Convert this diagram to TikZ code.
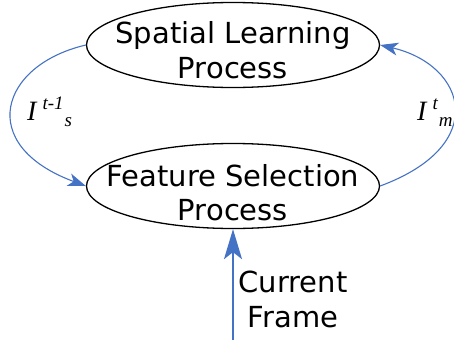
\documentclass[tikz,border=0pt]{standalone}
\usepackage{fontspec}
\setmainfont{DejaVu Sans}
\newfontfamily\serifit{Liberation Serif}
\usetikzlibrary{shapes.geometric,arrows.meta}
\definecolor{arrowblue}{HTML}{4472C4}
\tikzset{
  procbox/.style={draw=black, line width=1.3pt, ellipse, inner sep=0pt, minimum width=293pt, minimum height=85pt},
  proctext/.style={anchor=base, inner sep=0pt, font=\fontsize{29}{35}\selectfont},
  flowline/.style={draw=arrowblue, line width=1.1pt, -{Stealth[length=18pt,width=13pt,inset=5pt]}},
  inputline/.style={draw=arrowblue, line width=2pt, -{Stealth[length=30pt,width=18pt,inset=7pt]}},
  lbl/.style={anchor=base west, inner sep=0pt},
}
\newcommand{\Ilabel}[2]{\serifit\itshape\fontsize{28}{28}\selectfont I\hspace{6pt}\raisebox{11pt}{\fontsize{19}{19}\selectfont #1}\hspace{1pt}\raisebox{-6pt}{\fontsize{19}{19}\selectfont #2}}
\begin{document}
\begin{tikzpicture}[x=1pt,y=1pt]
\useasboundingbox (0,0) rectangle (454,-340);
\node[procbox] (sl) at (233,-45) {};
\node[procbox] (fs) at (233,-186) {};
\node[proctext] (sl1) at (233,-43) {Spatial Learning};
\node[proctext] (sl2) at (233,-78) {Process};
\node[proctext] (fs1) at (233,-186) {Feature Selection};
\node[proctext] (fs2) at (233,-220) {Process};
\node[proctext] (cf1) at (293,-292) {Current};
\node[proctext] (cf2) at (293,-327) {Frame};
\node[lbl] (ls) at (27,-120) {\Ilabel{t-1}{s}};
\node[lbl] (lm) at (417,-120) {\Ilabel{t}{m}};
\coordinate (src) at (233,-340);
\draw[flowline] (sl.west) .. controls (0,-65) and (-25,-145) .. (fs.west);
\draw[flowline] (fs.east) .. controls (491,-145) and (466,-65) .. (sl.east);
\draw[inputline] (src) -- (fs.south);
\end{tikzpicture}
\end{document}
